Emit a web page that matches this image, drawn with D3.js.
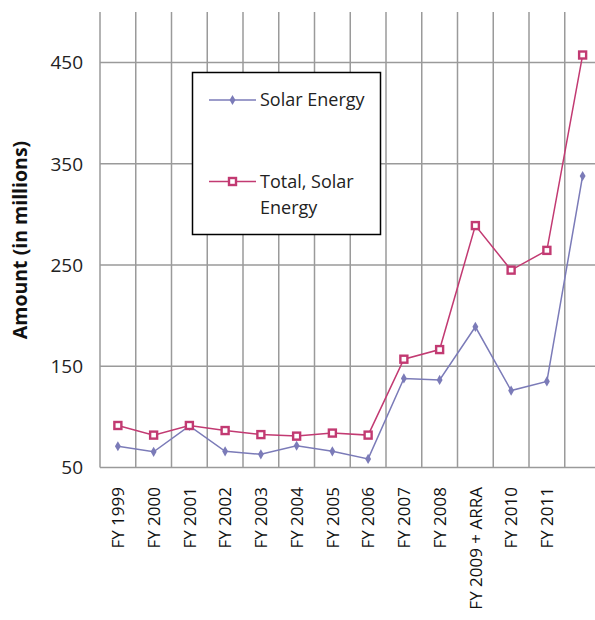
<!DOCTYPE html>
<html>
<head>
<meta charset="utf-8">
<script src="https://cdn.jsdelivr.net/npm/d3@7"></script>
<style>
  body { margin: 0; background: #fff; }
  svg text { font-family: "Open Sans", sans-serif; }
</style>
</head>
<body>
<svg id="chart" width="595" height="620"></svg>
<script>
// Data
var years = ["FY 1999", "FY 2000", "FY 2001", "FY 2002", "FY 2003", "FY 2004", "FY 2005",
             "FY 2006", "FY 2007", "FY 2008", "FY 2009 + ARRA", "FY 2010", "FY 2011", ""];
var solarEnergy = [71, 65.5, 91, 66, 63, 71.5, 66, 58.5, 138, 136.5, 189, 126, 135, 338];
var totalSolar  = [91.5, 82, 91.5, 86.5, 82.5, 81, 84, 82, 157, 166.5, 289, 245, 264.5, 457.5];
var yTicks = [50, 150, 250, 350, 450];

var svg = d3.select("#chart");

var x = d3.scaleBand()
    .domain(years)
    .range([100, 600.5])
    .padding(0);

var y = d3.scaleLinear()
    .domain([50, 500])
    .range([467.5, 12]);

var gridColor = "#9a9a9a";
var blue = "#7b7bb8";
var pink = "#c23a72";

// vertical grid lines on band edges
var edges = years.map(function (d) { return x(d); }).concat([x.range()[1]]);
svg.append("g")
    .selectAll("line")
    .data(edges)
    .enter()
    .append("line")
    .attr("x1", function (d) { return d; })
    .attr("x2", function (d) { return d; })
    .attr("y1", y(500))
    .attr("y2", y(50))
    .attr("stroke", gridColor)
    .attr("stroke-width", 1.5);

// horizontal grid lines
svg.append("g")
    .selectAll("line")
    .data(yTicks)
    .enter()
    .append("line")
    .attr("x1", 100)
    .attr("x2", 600.5)
    .attr("y1", function (d) { return y(d); })
    .attr("y2", function (d) { return y(d); })
    .attr("stroke", gridColor)
    .attr("stroke-width", 1.5);

// y tick labels
svg.append("g")
    .selectAll("text")
    .data(yTicks)
    .enter()
    .append("text")
    .attr("x", 83)
    .attr("y", function (d) { return y(d); })
    .attr("dy", "0.36em")
    .attr("text-anchor", "end")
    .attr("font-size", 19)
    .attr("fill", "#222")
    .text(function (d) { return d; });

// y axis title
svg.append("text")
    .attr("transform", "translate(27,240) rotate(-90)")
    .attr("text-anchor", "middle")
    .attr("font-size", 19.5)
    .attr("font-weight", "bold")
    .attr("fill", "#111")
    .text("Amount (in millions)");

// x labels
svg.append("g")
    .selectAll("text")
    .data(years)
    .enter()
    .append("text")
    .attr("transform", function (d) {
        return "translate(" + (x(d) + x.bandwidth() / 2) + ",487) rotate(-90)";
    })
    .attr("text-anchor", "end")
    .attr("dy", "0.36em")
    .attr("font-size", 17)
    .attr("fill", "#111")
    .text(function (d) { return d; });

var cx = function (d, i) { return x(years[i]) + x.bandwidth() / 2; };

var line = d3.line()
    .x(function (d, i) { return cx(d, i); })
    .y(function (d) { return y(d); });

// Solar Energy line
svg.append("path")
    .datum(solarEnergy)
    .attr("d", line)
    .attr("fill", "none")
    .attr("stroke", blue)
    .attr("stroke-width", 1.5);

svg.append("g")
    .selectAll("path")
    .data(solarEnergy)
    .enter()
    .append("path")
    .attr("d", d3.symbol().type(d3.symbolDiamond).size(30))
    .attr("transform", function (d, i) { return "translate(" + cx(d, i) + "," + y(d) + ")"; })
    .attr("fill", blue);

// Total line
svg.append("path")
    .datum(totalSolar)
    .attr("d", line)
    .attr("fill", "none")
    .attr("stroke", pink)
    .attr("stroke-width", 1.5);

svg.append("g")
    .selectAll("rect")
    .data(totalSolar)
    .enter()
    .append("rect")
    .attr("x", function (d, i) { return cx(d, i) - 3.5; })
    .attr("y", function (d) { return y(d) - 3.5; })
    .attr("width", 7)
    .attr("height", 7)
    .attr("fill", "#fff")
    .attr("stroke", pink)
    .attr("stroke-width", 2.4);

// Legend
var legend = svg.append("g");
legend.append("rect")
    .attr("x", 192.5)
    .attr("y", 72.5)
    .attr("width", 188)
    .attr("height", 162)
    .attr("fill", "#fff")
    .attr("stroke", "#000")
    .attr("stroke-width", 1.5);

legend.append("line")
    .attr("x1", 209).attr("x2", 256)
    .attr("y1", 100).attr("y2", 100)
    .attr("stroke", blue).attr("stroke-width", 1.5);
legend.append("path")
    .attr("d", d3.symbol().type(d3.symbolDiamond).size(30))
    .attr("transform", "translate(232.5,100)")
    .attr("fill", blue);
legend.append("text")
    .attr("x", 260).attr("y", 100)
    .attr("dy", "0.36em")
    .attr("font-size", 18)
    .attr("fill", "#222")
    .text("Solar Energy");

legend.append("line")
    .attr("x1", 209).attr("x2", 256)
    .attr("y1", 181.5).attr("y2", 181.5)
    .attr("stroke", pink).attr("stroke-width", 1.5);
legend.append("rect")
    .attr("x", 229).attr("y", 178)
    .attr("width", 7).attr("height", 7)
    .attr("fill", "#fff")
    .attr("stroke", pink).attr("stroke-width", 2.4);
legend.append("text")
    .attr("x", 260).attr("y", 181.5)
    .attr("dy", "0.36em")
    .attr("font-size", 18)
    .attr("fill", "#222")
    .text("Total, Solar");
legend.append("text")
    .attr("x", 260).attr("y", 207.5)
    .attr("dy", "0.36em")
    .attr("font-size", 18)
    .attr("fill", "#222")
    .text("Energy");
</script>
</body>
</html>
